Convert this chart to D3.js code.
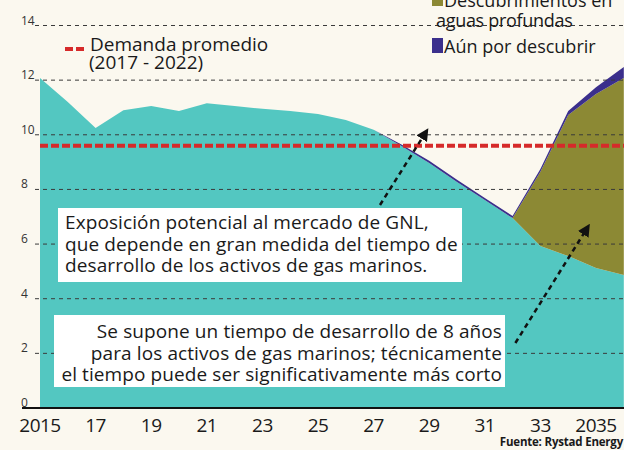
<!DOCTYPE html>
<html>
<head>
<meta charset="utf-8">
<script src="https://cdn.jsdelivr.net/npm/d3@7"></script>
<style>
	body { margin: 0; background: #fbf8ef; }
	text { font-family: "Open Sans", sans-serif; fill: #1a1a1a; }
</style>
</head>
<body>
<div id="chart"></div>
<script>
// values (million tonnes)
var years     = [2015, 2016, 2017, 2018, 2019, 2020, 2021, 2022, 2023, 2024, 2025,
                 2026, 2027, 2028, 2029, 2030, 2031, 2032, 2033, 2034, 2035, 2036];
var existing  = [12.08, 11.2, 10.25, 10.9, 11.05, 10.87, 11.15, 11.05, 10.95, 10.87, 10.76,
                 10.54, 10.18, 9.59, 8.97, 8.27, 7.61, 6.95, 5.93, 5.56, 5.12, 4.87];
var deepwater = [0, 0, 0, 0, 0, 0, 0, 0, 0, 0, 0,
                 0, 0, 0, 0, 0, 0, 0, 2.72, 5.16, 6.37, 7.21];
var yetToFind = [0, 0, 0, 0, 0, 0, 0, 0, 0, 0, 0,
                 0, 0, 0.05, 0.08, 0.08, 0.08, 0.08, 0.1, 0.15, 0.25, 0.4];
var demandAvg = 9.6;

var yTicks = [0, 2, 4, 6, 8, 10, 12, 14];
var xTicks = [2015, 2017, 2019, 2021, 2023, 2025, 2027, 2029, 2031, 2033, 2035];
var xTickLabels = ["2015", "17", "19", "21", "23", "25", "27", "29", "31", "33", "2035"];

var seriesKeys = ["existing", "deepwater", "yet"];
var seriesColors = {existing: "#53c7c1", deepwater: "#8c8934", yet: "#3b2f8c"};

var width = 624, height = 450;

var svg = d3.select("#chart")
	.append("svg")
	.attr("width", width)
	.attr("height", height);

var x = d3.scaleLinear().domain([2015, 2035]).range([40, 596]);
var y = d3.scaleLinear().domain([0, 14]).range([408, 25.5]);

var table = years.map(function(d, i){
	return {year: d, existing: existing[i], deepwater: deepwater[i], yet: yetToFind[i]};
});

var stacked = d3.stack().keys(seriesKeys)(table);

var area = d3.area()
	.x(function(d){ return x(d.data.year); })
	.y0(function(d){ return y(d[0]); })
	.y1(function(d){ return y(d[1]); });

svg.append("defs").append("clipPath")
	.attr("id", "plot")
	.append("rect")
	.attr("x", 0).attr("y", 0)
	.attr("width", width).attr("height", 408);

svg.append("g")
	.attr("clip-path", "url(#plot)")
	.selectAll(".layer")
	.data(stacked)
	.enter()
	.append("path")
	.attr("class", "layer")
	.attr("d", area)
	.attr("fill", function(d){ return seriesColors[d.key]; });

// dashed grid
svg.selectAll(".grid")
	.data(yTicks.filter(function(d){ return d > 0; }))
	.enter()
	.append("line")
	.attr("class", "grid")
	.attr("x1", 35)
	.attr("x2", width)
	.attr("y1", function(d){ return y(d); })
	.attr("y2", function(d){ return y(d); })
	.attr("stroke", "#3a3a3a")
	.attr("stroke-width", 1)
	.attr("stroke-dasharray", "4,4");

svg.selectAll(".ylab")
	.data(yTicks)
	.enter()
	.append("text")
	.attr("class", "ylab")
	.attr("x", 21)
	.attr("y", function(d){ return y(d) - 1; })
	.style("font-size", "12px")
	.style("fill", "#333")
	.text(function(d){ return d; });

// average demand
svg.append("line")
	.attr("x1", x(2015))
	.attr("x2", width)
	.attr("y1", y(demandAvg))
	.attr("y2", y(demandAvg))
	.attr("stroke", "#d62a2a")
	.attr("stroke-width", 4)
	.attr("stroke-dasharray", "8,3");

// annotation boxes
var notes = [
	{x: 58, y: 208, w: 404, h: 74, anchor: "start", tx: 65,
	 lines: ["Exposición potencial al mercado de GNL,",
	         "que depende en gran medida del tiempo de",
	         "desarrollo de los activos de gas marinos."], base: 229},
	{x: 54, y: 315, w: 451, h: 72, anchor: "end", tx: 502,
	 lines: ["Se supone un tiempo de desarrollo de 8 años",
	         "para los activos de gas marinos; técnicamente",
	         "el tiempo puede ser significativamente más corto"], base: 338}
];

notes.forEach(function(n){
	svg.append("rect")
		.attr("x", n.x).attr("y", n.y)
		.attr("width", n.w).attr("height", n.h)
		.attr("fill", "#ffffff");
	svg.append("g").selectAll("text")
		.data(n.lines)
		.enter()
		.append("text")
		.attr("x", n.tx)
		.attr("y", function(d, i){ return n.base + i * 21.5; })
		.attr("text-anchor", n.anchor)
		.style("font-size", "19px")
		.style("letter-spacing", "0.1px")
		.text(function(d){ return d; });
});

// dashed arrows
svg.append("defs").append("marker")
	.attr("id", "head")
	.attr("viewBox", "0 0 10 10")
	.attr("refX", 5).attr("refY", 5)
	.attr("markerWidth", 5).attr("markerHeight", 5)
	.attr("orient", "auto")
	.append("path")
	.attr("d", "M0,0L10,5L0,10z")
	.attr("fill", "#111");

var arrows = [
	{from: [2027.23, 7.43], to: [2028.85, 10.05]},
	{from: [2032.1, 2.38], to: [2034.66, 6.55]}
];

svg.selectAll(".arrow")
	.data(arrows)
	.enter()
	.append("line")
	.attr("class", "arrow")
	.attr("x1", function(d){ return x(d.from[0]); })
	.attr("y1", function(d){ return y(d.from[1]); })
	.attr("x2", function(d){ return x(d.to[0]); })
	.attr("y2", function(d){ return y(d.to[1]); })
	.attr("stroke", "#111")
	.attr("stroke-width", 2.5)
	.attr("stroke-dasharray", "5,4")
	.attr("marker-end", "url(#head)");

// x axis
svg.append("line")
	.attr("x1", 22).attr("x2", width)
	.attr("y1", y(0)).attr("y2", y(0))
	.attr("stroke", "#111")
	.attr("stroke-width", 2);

svg.selectAll(".xlab")
	.data(xTicks)
	.enter()
	.append("text")
	.attr("class", "xlab")
	.attr("x", function(d){ return x(d); })
	.attr("y", 432)
	.attr("text-anchor", "middle")
	.style("font-size", "19px")
	.style("letter-spacing", "-0.5px")
	.text(function(d, i){ return xTickLabels[i]; });

// legend: average demand
svg.append("line")
	.attr("x1", 65).attr("x2", 85)
	.attr("y1", 49).attr("y2", 49)
	.attr("stroke", "#d62a2a")
	.attr("stroke-width", 4)
	.attr("stroke-dasharray", "8,3");

svg.append("text").attr("x", 90).attr("y", 51)
	.style("font-size", "19px").text("Demanda promedio");
svg.append("text").attr("x", 89).attr("y", 69)
	.style("font-size", "19px").text("(2017 - 2022)");

// legend: swatches
svg.append("rect").attr("x", 432).attr("y", -9).attr("width", 11).attr("height", 15)
	.attr("fill", seriesColors.deepwater);
svg.append("text").attr("x", 444).attr("y", 7)
	.style("font-size", "18px").text("Descubrimientos en");
svg.append("text").attr("x", 436).attr("y", 27)
	.style("font-size", "18px").style("letter-spacing", "-0.3px").text("aguas profundas");
svg.append("rect").attr("x", 432).attr("y", 38).attr("width", 11).attr("height", 15)
	.attr("fill", seriesColors.yet);
svg.append("text").attr("x", 444).attr("y", 53)
	.style("font-size", "18px").text("Aún por descubrir");

svg.append("text")
	.attr("x", 623).attr("y", 446)
	.attr("text-anchor", "end")
	.style("font-size", "11.5px")
	.style("font-weight", "bold")
	.style("letter-spacing", "-0.2px")
	.text("Fuente: Rystad Energy");
</script>
</body>
</html>
